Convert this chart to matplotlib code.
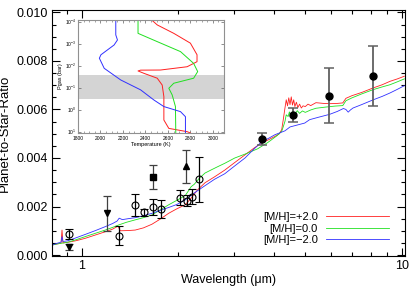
import matplotlib
matplotlib.use("Agg")
import matplotlib.pyplot as plt
from matplotlib.ticker import FixedLocator, MultipleLocator, FormatStrFormatter, LogLocator, NullFormatter, FixedFormatter

plt.rcParams['font.family'] = ['Liberation Sans', 'DejaVu Sans']
plt.rcParams['mathtext.fontset'] = 'custom'
plt.rcParams['mathtext.rm'] = 'Liberation Sans'

# ---- model spectra (wavelength in micron, planet/star ratio) ----
wl_p2 = [0.806, 0.84, 0.862, 0.868, 0.874, 0.90, 0.96, 1.026, 1.10, 1.185, 1.25, 1.289, 1.30, 1.32,
         1.40, 1.47, 1.56, 1.658, 1.76, 1.87, 1.98, 2.107, 2.2, 2.3, 2.43, 2.6, 2.8, 3.0, 3.24, 3.45,
         3.65, 3.85, 4.02, 4.15, 4.22, 4.27, 4.32, 4.36, 4.40, 4.44, 4.48, 4.52, 4.56, 4.60, 4.64,
         4.69, 4.74, 4.80, 4.86, 4.92, 5.0, 5.1, 5.2, 5.4, 5.7, 6.0, 6.3, 6.55, 6.7, 7.0, 7.5,
         8.16, 8.7, 9.2, 9.7, 10.2]
fr_p2 = [0.00041, 0.00046, 0.00049, 0.00103, 0.00050, 0.00052, 0.00059, 0.00069, 0.00082, 0.00096,
         0.00107, 0.00117, 0.00118, 0.00100, 0.00101, 0.00103, 0.00112, 0.00127, 0.00148, 0.00172,
         0.00190, 0.00207, 0.00235, 0.00268, 0.00298, 0.00322, 0.00350, 0.00380, 0.00413, 0.00440,
         0.00462, 0.00476, 0.00489, 0.00500, 0.00517, 0.00560, 0.00606, 0.00640, 0.00615, 0.00648,
         0.00620, 0.00652, 0.00618, 0.00640, 0.00612, 0.00630, 0.00608, 0.00622, 0.00606, 0.00615,
         0.00612, 0.00622, 0.00616, 0.00628, 0.00625, 0.00624, 0.00625, 0.00627, 0.00646, 0.00657,
         0.00670, 0.00689, 0.00702, 0.00716, 0.00726, 0.00737]

wl_00 = [0.806, 0.84, 0.868, 0.90, 0.96, 1.026, 1.10, 1.185, 1.25, 1.305, 1.38, 1.47, 1.56, 1.658,
         1.76, 1.87, 1.98, 2.107, 2.15, 2.2, 2.25, 2.33, 2.43, 2.55, 2.67, 2.8, 3.01, 3.24, 3.39,
         3.55, 3.65, 3.8, 3.92, 4.08, 4.22, 4.27, 4.32, 4.36, 4.42, 4.46, 4.50, 4.56, 4.64, 4.72,
         4.80, 4.90, 5.0, 5.2, 5.4, 5.8, 6.2, 6.55, 6.7, 7.0, 7.5, 8.16, 8.7, 9.2, 9.7, 10.2]
fr_00 = [0.00041, 0.00046, 0.00049, 0.00052, 0.00063, 0.00076, 0.00089, 0.00103, 0.00114, 0.00124,
         0.00135, 0.00145, 0.00154, 0.00165, 0.00186, 0.00207, 0.00225, 0.00245, 0.00262, 0.00282,
         0.00292, 0.00316, 0.00338, 0.00352, 0.00365, 0.00378, 0.00400, 0.00416, 0.00427, 0.00438,
         0.00448, 0.00462, 0.00475, 0.00492, 0.00510, 0.00530, 0.00551, 0.00578, 0.00571, 0.00590,
         0.00575, 0.00592, 0.00580, 0.00595, 0.00584, 0.00594, 0.00588, 0.00598, 0.00605, 0.00610,
         0.00614, 0.00616, 0.00636, 0.00648, 0.00664, 0.00682, 0.00693, 0.00702, 0.00714, 0.00726]

wl_m2 = [0.806, 0.84, 0.862, 0.868, 0.874, 0.90, 0.96, 1.026, 1.10, 1.185, 1.25, 1.29, 1.31, 1.34,
         1.40, 1.47, 1.56, 1.658, 1.76, 1.87, 1.98, 2.1, 2.25, 2.43, 2.6, 2.8, 3.0, 3.24, 3.45,
         3.65, 3.85, 4.02, 4.32, 4.48, 4.98, 5.16, 5.5, 5.96, 6.3, 6.58, 6.7, 6.81, 6.92, 7.05,
         7.5, 8.16, 8.7, 9.2, 9.7, 10.2]
fr_m2 = [0.00041, 0.00049, 0.00053, 0.00076, 0.00056, 0.00058, 0.00071, 0.00085, 0.00100, 0.00117,
         0.00130, 0.00140, 0.00152, 0.00146, 0.00150, 0.00154, 0.00162, 0.00172, 0.00184, 0.00196,
         0.00208, 0.00226, 0.00256, 0.00286, 0.00312, 0.00335, 0.00366, 0.00400, 0.00436, 0.00466,
         0.00482, 0.00496, 0.00512, 0.00528, 0.00544, 0.00558, 0.00568, 0.00580, 0.00592, 0.00604,
         0.00600, 0.00589, 0.00598, 0.00606, 0.00620, 0.00640, 0.00654, 0.00668, 0.00683, 0.00698]

# ---- observations ----
oc_wl = [0.915, 1.305, 1.464, 1.566, 1.667, 1.77, 2.024, 2.134, 2.212, 2.326]
oc_fr = [0.00086, 0.00080, 0.00207, 0.00176, 0.00198, 0.00189, 0.00237, 0.00224, 0.00241, 0.00313]
oc_er = [0.00020, 0.00040, 0.00045, 0.00015, 0.00033, 0.00037, 0.00031, 0.00023, 0.00030, 0.00093]

dt_wl = [0.915, 1.20]
dt_fr = [0.00032, 0.00172]
dt_er = [0.00012, 0.00072]

ut_wl = [2.118]
ut_fr = [0.00365]
ut_er = [0.00068]

sq_wl = [1.667]
sq_fr = [0.00322]
sq_er = [0.00049]

fc_wl = [3.65, 4.58, 5.93, 8.17]
fc_fr = [0.00479, 0.00579, 0.00657, 0.00738]
fc_er = [0.00026, 0.00029, 0.00114, 0.00122]

labels = ['[M/H]=+2.0', '[M/H]=0.0', '[M/H]=\u22122.0']
colors = ['#ff2020', '#20e020', '#3030ff']

# ---- inset: T-P profiles ----
T_p2 = [2461, 2505, 2652, 2800, 2859, 2859, 2771, 2534, 2357, 2334, 2387, 2505, 2549, 2564, 2564, 2608, 2771, 2800]
P_p2 = [8.9e-5, 1.41e-4, 3.4e-4, 9.5e-4, 3.2e-3, 6.6e-3, 0.0112, 0.0158, 0.0160, 0.0174, 0.0224, 0.0372, 0.0759, 0.257, 2.95, 7.1, 10.0, 11.5]
T_00 = [2334, 2334, 2505, 2712, 2829, 2865, 2829, 2652, 2608, 2638, 2667, 2670]
P_00 = [8.9e-5, 3.4e-4, 8.1e-4, 2.3e-3, 7.9e-3, 0.0186, 0.0372, 0.063, 0.107, 0.214, 0.724, 11.5]
T_m2 = [2136, 2136, 2151, 2121, 2004, 1990, 2033, 2180, 2357, 2475, 2564, 2712, 2756, 2756]
P_m2 = [8.9e-5, 4.0e-4, 6.8e-4, 1.15e-3, 3.2e-3, 4.6e-3, 0.0132, 0.0447, 0.126, 0.363, 0.724, 1.23, 2.09, 11.5]
band_P = [0.026, 0.32]

fig = plt.figure(figsize=(4.15, 2.9), dpi=100)
ax = fig.add_axes([0.1246, 0.1172, 0.8513, 0.8483])

l1, = ax.plot(wl_p2, fr_p2, color=colors[0], lw=0.6)
l2, = ax.plot(wl_00, fr_00, color=colors[1], lw=0.6)
l3, = ax.plot(wl_m2, fr_m2, color=colors[2], lw=0.6)

ekw = dict(capsize=3, elinewidth=0.9, capthick=0.9, linestyle='none')
ax.errorbar(oc_wl, oc_fr, yerr=oc_er, fmt='o', ms=5, mfc='none', mec='black', mew=0.8, ecolor='black', **ekw)
ax.errorbar(dt_wl, dt_fr, yerr=dt_er, fmt='v', ms=4.5, color='black', ecolor='#404040', **ekw)
ax.errorbar(ut_wl, ut_fr, yerr=ut_er, fmt='^', ms=4.5, color='black', ecolor='#404040', **ekw)
ax.errorbar(sq_wl, sq_fr, yerr=sq_er, fmt='s', ms=4, color='black', ecolor='#404040', **ekw)
ax.errorbar(fc_wl, fc_fr, yerr=fc_er, fmt='o', ms=5, color='black', ecolor='#606060',
            capsize=3.5, elinewidth=1.3, capthick=1.1, linestyle='none')

ax.set_xscale('log')
ax.set_xlim(0.806, 10.25)
ax.set_ylim(-0.00004, 0.0101)
ax.xaxis.set_major_locator(FixedLocator([1, 10]))
ax.xaxis.set_major_formatter(FixedFormatter(['1', '10']))
ax.xaxis.set_minor_locator(FixedLocator([0.9, 2, 3, 4, 5, 6, 7, 8, 9]))
ax.xaxis.set_minor_formatter(NullFormatter())
ax.yaxis.set_major_locator(MultipleLocator(0.002))
ax.yaxis.set_minor_locator(MultipleLocator(0.0005))
ax.yaxis.set_major_formatter(FormatStrFormatter('%.3f'))
ax.tick_params(which='both', direction='in', top=True, right=True, labelsize=9, pad=3)
ax.tick_params(which='major', length=6, width=0.8)
ax.tick_params(which='minor', length=3, width=0.8)
for s in ax.spines.values():
    s.set_linewidth(0.8)
ax.set_xlabel('Wavelength (\u03bcm)', fontsize=9, labelpad=1)
ax.set_ylabel('Planet-to-Star-Ratio', fontsize=9.5, labelpad=4)

leg = ax.legend([l1, l2, l3], labels, loc='lower right', bbox_to_anchor=(0.955, 0.045),
                frameon=False, markerfirst=False, fontsize=8, handlelength=5.7,
                handletextpad=0.7, labelspacing=0.12, borderpad=0, borderaxespad=0)

# inset
ins = fig.add_axes([0.188, 0.5414, 0.352, 0.3897])
ins.axhspan(band_P[0], band_P[1], color='#d4d4d4', lw=0)
ins.plot(T_p2, P_p2, color=colors[0], lw=0.7)
ins.plot(T_00, P_00, color=colors[1], lw=0.7)
ins.plot(T_m2, P_m2, color=colors[2], lw=0.7)
ins.set_yscale('log')
ins.set_xlim(1800, 3100)
ins.set_ylim(11.5, 8.4e-5)
ins.xaxis.set_major_locator(MultipleLocator(200))
ins.xaxis.set_minor_locator(MultipleLocator(50))
ins.yaxis.set_major_locator(LogLocator(base=10, numticks=10))
ins.yaxis.set_minor_locator(FixedLocator([]))
ins.tick_params(which='both', direction='in', top=True, right=True, labelsize=3.5, pad=1.5, color='#606060')
ins.tick_params(axis='x', pad=2)
ins.tick_params(which='major', length=2.5, width=0.5)
ins.tick_params(which='minor', length=1.2, width=0.4)
for s in ins.spines.values():
    s.set_color('#909090')
    s.set_linewidth(0.8)
ins.set_xlabel('Temperature (K)', fontsize=4, labelpad=1)
ins.set_ylabel('Pgas (bar)', fontsize=4, labelpad=1)

fig.savefig('out.png', dpi=100)
